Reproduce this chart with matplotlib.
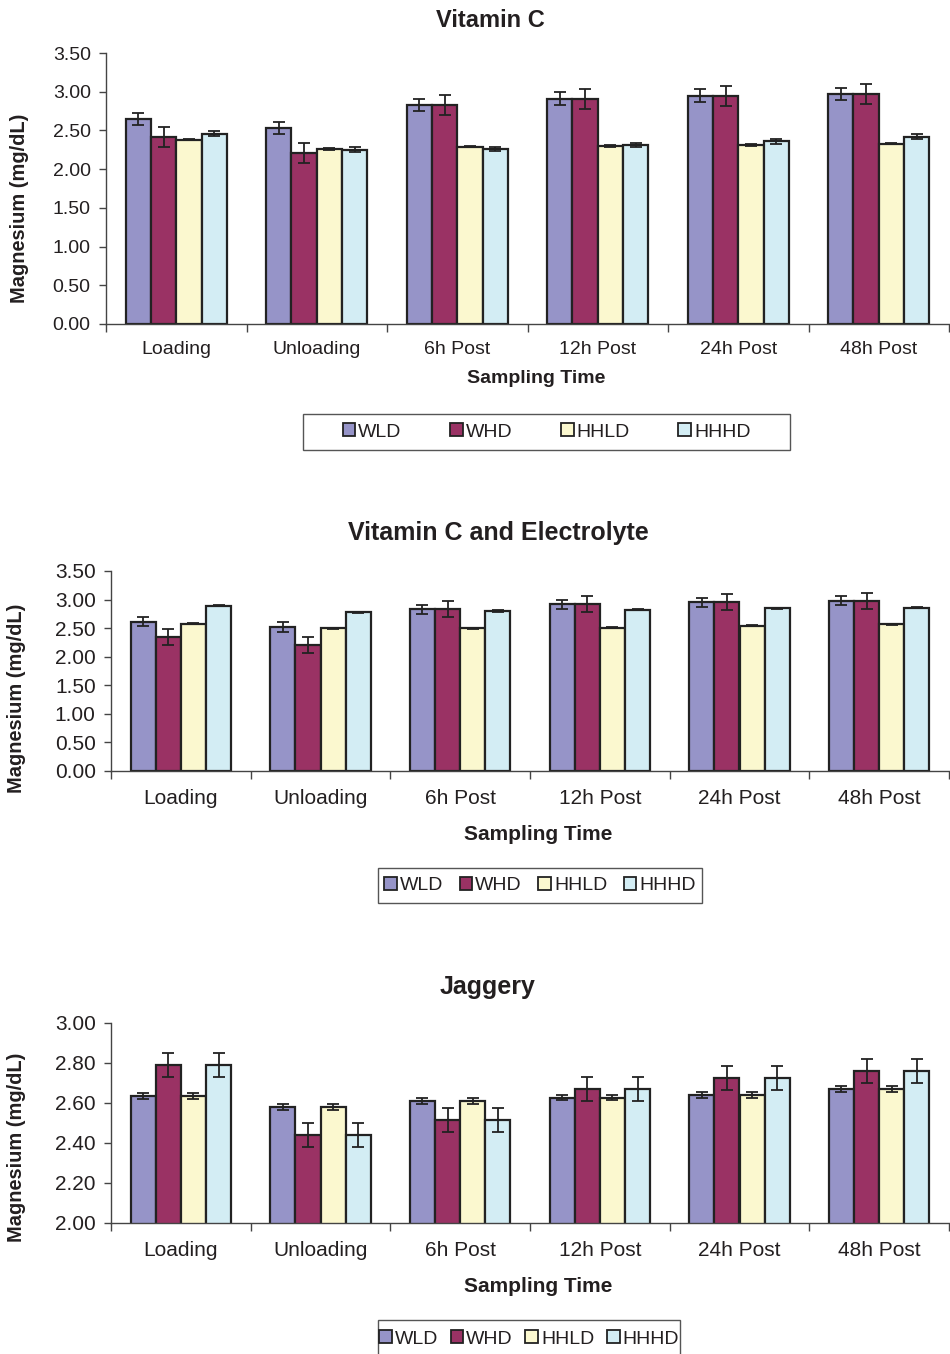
import numpy as np
import matplotlib.pyplot as plt
from matplotlib.patches import Patch, Rectangle

plt.rcParams["font.family"] = ["Liberation Sans", "DejaVu Sans"]

# --- data ---
times = ["Loading", "Unloading", "6h Post", "12h Post", "24h Post", "48h Post"]
groups = ["WLD", "WHD", "HHLD", "HHHD"]
colors = ["#9694C8", "#9A3264", "#FBF8CF", "#D3EDF4"]

# Vitamin C
vc_wld = [2.65, 2.53, 2.83, 2.91, 2.95, 2.97]
vc_whd = [2.42, 2.21, 2.83, 2.91, 2.95, 2.97]
vc_hhld = [2.38, 2.26, 2.29, 2.30, 2.31, 2.33]
vc_hhhd = [2.46, 2.25, 2.26, 2.31, 2.36, 2.42]
vc_err = [0.08, 0.13, 0.01, 0.03]

# Vitamin C and Electrolyte
ve_wld = [2.61, 2.52, 2.83, 2.92, 2.95, 2.98]
ve_whd = [2.35, 2.21, 2.83, 2.92, 2.95, 2.98]
ve_hhld = [2.58, 2.50, 2.50, 2.51, 2.54, 2.57]
ve_hhhd = [2.89, 2.78, 2.80, 2.82, 2.85, 2.86]
ve_err = [0.08, 0.14, 0.01, 0.01]

# Jaggery
jg_wld = [2.636, 2.58, 2.61, 2.627, 2.64, 2.67]
jg_whd = [2.79, 2.44, 2.515, 2.67, 2.725, 2.76]
jg_hhld = [2.636, 2.58, 2.61, 2.627, 2.64, 2.67]
jg_hhhd = [2.79, 2.44, 2.515, 2.67, 2.725, 2.76]
jg_err = [0.014, 0.058, 0.014, 0.058]

TXT = "#231f20"
EDGE = "#222222"
W, H = 950, 1354


def draw_panel(ax, series, errs, title, title_x, ylim, yticks, fs, title_fs,
               tick_pad, xl_pad, yl_pad, yl_y, title_pad):
    x = np.arange(len(times))
    w = 0.18
    offs = [-1.5 * w, -0.5 * w, 0.5 * w, 1.5 * w]
    for vals, err, col, off in zip(series, errs, colors, offs):
        ax.bar(x + off, vals, w, color=col, edgecolor=EDGE, linewidth=1.6, zorder=2)
        ax.errorbar(x + off, vals, yerr=err, fmt="none", ecolor=EDGE,
                    elinewidth=1.3, capsize=4.5, capthick=1.3, zorder=3)
    ax.set_xlim(-0.5, len(times) - 0.5)
    ax.set_ylim(*ylim)
    ax.set_yticks(yticks)
    ax.set_yticklabels([f"{v:.2f}" for v in yticks], fontsize=fs, color=TXT)
    ax.set_xticks(x)
    ax.set_xticklabels(times, fontsize=fs, color=TXT)
    ax.set_xticks(np.arange(len(times) + 1) - 0.5, minor=True)
    ax.tick_params(axis="x", which="major", length=0, pad=tick_pad)
    ax.tick_params(axis="x", which="minor", length=6, width=1, color="#444444")
    ax.tick_params(axis="y", length=5, width=1, color="#444444", pad=6)
    for s in ["top", "right"]:
        ax.spines[s].set_visible(False)
    for s in ["left", "bottom"]:
        ax.spines[s].set_color("#444444")
        ax.spines[s].set_linewidth(1)
    ax.set_ylabel("Magnesium (mg/dL)", fontsize=14.4, fontweight="bold", color=TXT, labelpad=yl_pad)
    ax.yaxis.label.set_y(yl_y)
    ax.set_xlabel("Sampling Time", fontsize=fs, fontweight="bold", color=TXT, labelpad=xl_pad)
    ax.xaxis.label.set_x(0.51)
    ax.set_title(title, fontsize=title_fs, fontweight="bold", color=TXT, x=title_x, pad=title_pad)


def add_legend(fig, box, colsp):
    x0, y0, x1, y1 = box
    fig.add_artist(Rectangle((x0 / W, 1 - y1 / H), (x1 - x0) / W, (y1 - y0) / H,
                             transform=fig.transFigure, facecolor="white",
                             edgecolor="#555555", linewidth=1, zorder=1))
    handles = [Patch(facecolor=c, edgecolor=EDGE, linewidth=1.3) for c in colors]
    leg = fig.legend(handles, groups, loc="center",
                     bbox_to_anchor=((x0 + x1) / 2 / W, 1 - (y0 + y1) / 2 / H),
                     ncol=4, fontsize=14, frameon=False, handlelength=0.65,
                     handleheight=0.65, handletextpad=0.15, borderpad=0.2,
                     columnspacing=colsp)
    leg.set_zorder(2)
    for t in leg.get_texts():
        t.set_color(TXT)


fig = plt.figure(figsize=(W / 100, H / 100), dpi=100)

ax1 = fig.add_axes([106 / W, 1 - 324 / H, 843 / W, 271 / H])
draw_panel(ax1, [vc_wld, vc_whd, vc_hhld, vc_hhhd], vc_err, "Vitamin C", 0.456,
           (0, 3.5), np.arange(0, 3.51, 0.5), 14, 17, 12, 9, 17, 0.428, 19)
add_legend(fig, (303, 414, 790, 450), 2.5)

ax2 = fig.add_axes([111 / W, 1 - 771 / H, 838 / W, 200 / H])
draw_panel(ax2, [ve_wld, ve_whd, ve_hhld, ve_hhhd], ve_err, "Vitamin C and Electrolyte", 0.462,
           (0, 3.5), np.arange(0, 3.51, 0.5), 15, 18, 13, 12, 21, 0.365, 22)
add_legend(fig, (378, 868, 702, 903), 0.85)

ax3 = fig.add_axes([111 / W, 1 - 1223 / H, 838 / W, 200 / H])
draw_panel(ax3, [jg_wld, jg_whd, jg_hhld, jg_hhhd], jg_err, "Jaggery", 0.449,
           (2.0, 3.0), np.arange(2.0, 3.01, 0.2), 15, 18, 13, 12, 21, 0.38, 21)
add_legend(fig, (378, 1320, 680, 1358), 0.65)

fig.savefig("out.png", dpi=100)
